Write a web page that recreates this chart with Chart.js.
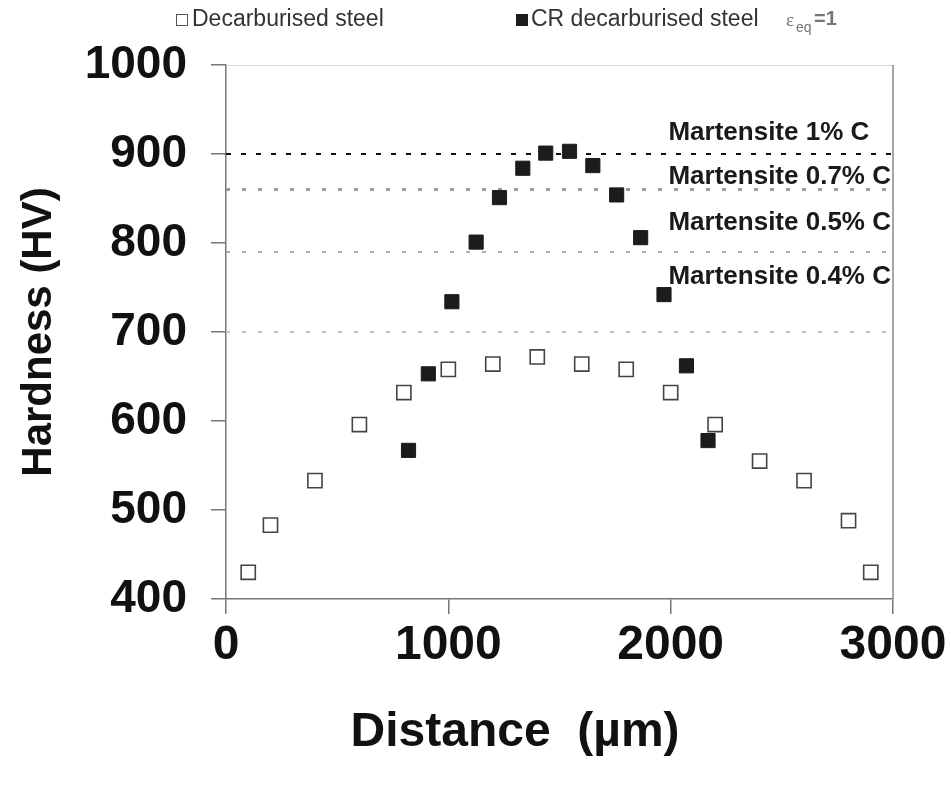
<!DOCTYPE html>
<html>
<head>
<meta charset="utf-8">
<script src="https://cdn.jsdelivr.net/npm/chart.js@4/dist/chart.umd.min.js"></script>
<style>
  html, body { margin: 0; padding: 0; background: #fff; }
  #wrap { width: 951px; height: 793px; position: relative; }
</style>
</head>
<body>
<div id="wrap"><canvas id="chart"></canvas></div>
<script>
// hardness profiles
var decarbX = [100, 200, 400, 600, 800, 1000, 1200, 1400, 1600, 1800, 2000, 2200, 2400, 2600, 2800, 2900];
var decarbY = [430, 483, 533, 596, 632, 658, 664, 672, 664, 658, 632, 596, 555, 533, 488, 430];
var crX = [821, 910, 1016, 1125, 1230, 1335, 1438, 1545, 1650, 1757, 1865, 1970, 2071, 2168];
var crY = [567, 653, 734, 801, 851, 884, 901, 903, 887, 854, 806, 742, 662, 578];

// martensite reference levels
var levelNames = ['Martensite 1% C', 'Martensite 0.7% C', 'Martensite 0.5% C', 'Martensite 0.4% C'];
var levelValues = [900, 860, 790, 700];

var xTicks = [0, 1000, 2000, 3000];
var yTicks = [400, 500, 600, 700, 800, 900, 1000];

var seriesNames = ['Decarburised steel', 'CR decarburised steel'];
var xTitle = 'Distance  (\u00b5m)';
var yTitle = 'Hardness (HV)';

function toPoints(xs, ys) {
  return xs.map(function (x, i) { return { x: x, y: ys[i] }; });
}

var FONT = "'Liberation Sans', Arial, sans-serif";

// line look for each reference level
var levelStyle = [
  { color: '#111', width: 2, dash: [5, 10] },
  { color: '#9a9a9a', width: 3, dash: [4, 12] },
  { color: '#adadad', width: 2, dash: [4, 12] },
  { color: '#c2c2c2', width: 2, dash: [4, 12] }
];
var labelLift = [21, 13, 29, 55];

var datasets = [
  {
    label: seriesNames[1],
    type: 'scatter',
    data: toPoints(crX, crY),
    pointStyle: 'rect',
    pointRadius: 10,
    backgroundColor: '#1c1c1c',
    borderColor: '#1c1c1c',
    borderWidth: 1
  },
  {
    label: seriesNames[0],
    type: 'scatter',
    data: toPoints(decarbX, decarbY),
    pointStyle: 'rect',
    pointRadius: 10,
    backgroundColor: '#fff',
    borderColor: '#444',
    borderWidth: 1.6
  }
];

levelValues.forEach(function (v, i) {
  datasets.push({
    label: levelNames[i],
    type: 'line',
    data: [{ x: 0, y: v }, { x: 3000, y: v }],
    borderColor: levelStyle[i].color,
    borderWidth: levelStyle[i].width,
    borderDash: levelStyle[i].dash,
    pointRadius: 0,
    fill: false
  });
});

var extras = {
  id: 'extras',
  beforeDatasetsDraw: function (chart) {
    var ctx = chart.ctx, a = chart.chartArea;
    ctx.save();
    ctx.strokeStyle = '#d8d8d8';
    ctx.lineWidth = 1;
    ctx.beginPath();
    ctx.moveTo(a.left, a.top + 0.5);
    ctx.lineTo(a.right, a.top + 0.5);
    ctx.stroke();
    ctx.strokeStyle = '#888';
    ctx.lineWidth = 1.5;
    ctx.beginPath();
    ctx.moveTo(a.right, a.top);
    ctx.lineTo(a.right, a.bottom);
    ctx.stroke();
    ctx.restore();
  },
  afterDraw: function (chart) {
    var ctx = chart.ctx;
    var xs = chart.scales.x, ys = chart.scales.y;
    ctx.save();

    // level labels
    ctx.fillStyle = '#1a1a1a';
    ctx.font = 'bold 26px ' + FONT;
    ctx.textAlign = 'left';
    ctx.textBaseline = 'middle';
    levelNames.forEach(function (name, i) {
      ctx.fillText(name, xs.getPixelForValue(1990), ys.getPixelForValue(levelValues[i]) - labelLift[i]);
    });

    // x axis title sits left of centre in the original
    ctx.fillStyle = '#111';
    ctx.font = 'bold 48px ' + FONT;
    ctx.textAlign = 'center';
    ctx.fillText(xTitle, xs.getPixelForValue(1300), 733);

    // legend across the top
    ctx.textAlign = 'left';
    var ly = 20;
    ctx.strokeStyle = '#555';
    ctx.lineWidth = 1;
    ctx.strokeRect(176.5, ly - 5.5, 11, 11);
    ctx.fillStyle = '#1c1c1c';
    ctx.fillRect(516, ly - 6, 12, 12);

    ctx.font = '23px ' + FONT;
    ctx.fillStyle = '#333';
    ctx.fillText(seriesNames[0], 192, ly);
    ctx.fillText(seriesNames[1], 531, ly);

    ctx.fillStyle = '#777';
    ctx.font = '19px "Liberation Serif", serif';
    ctx.fillText('\u03b5', 786, ly + 1);
    ctx.font = '14px ' + FONT;
    ctx.fillText('eq', 796, ly + 8);
    ctx.font = 'bold 20px ' + FONT;
    ctx.fillText('=1', 814, ly - 1);

    ctx.restore();
  }
};

function plain(v) { return String(v); }

var ctx = document.getElementById('chart');
var chart = new Chart(ctx, {
  type: 'scatter',
  data: { datasets: datasets },
  plugins: [extras],
  options: {
    responsive: true,
    maintainAspectRatio: false,
    animation: false,
    devicePixelRatio: 1,
    layout: { padding: { top: 65, right: 58, bottom: 0, left: 0 } },
    plugins: {
      legend: { display: false },
      tooltip: { enabled: false }
    },
    scales: {
      x: {
        type: 'linear',
        min: 0,
        max: 3000,
        afterBuildTicks: function (s) { s.ticks = xTicks.map(function (v) { return { value: v }; }); },
        afterFit: function (s) { s.height = 194; },
        ticks: {
          font: { family: FONT, size: 48, weight: 'bold' },
          color: '#111',
          padding: 3,
          maxRotation: 0,
          callback: plain
        },
        grid: { drawOnChartArea: false, tickLength: 15, color: '#777', lineWidth: 1.5 },
        border: { color: '#777', width: 1.5 },
        title: { display: false }
      },
      y: {
        type: 'linear',
        min: 400,
        max: 1000,
        afterBuildTicks: function (s) { s.ticks = yTicks.map(function (v) { return { value: v }; }); },
        afterFit: function (s) { s.width = 226; },
        ticks: {
          font: { family: FONT, size: 46, weight: 'bold' },
          color: '#111',
          padding: 24,
          callback: plain
        },
        grid: { drawOnChartArea: false, tickLength: 15, color: '#777', lineWidth: 1.5 },
        border: { color: '#777', width: 1.5 },
        title: {
          display: true,
          text: yTitle,
          font: { family: FONT, size: 42, weight: 'bold' },
          color: '#111',
          padding: { top: 14, bottom: 0 }
        }
      }
    }
  }
});
</script>
</body>
</html>
